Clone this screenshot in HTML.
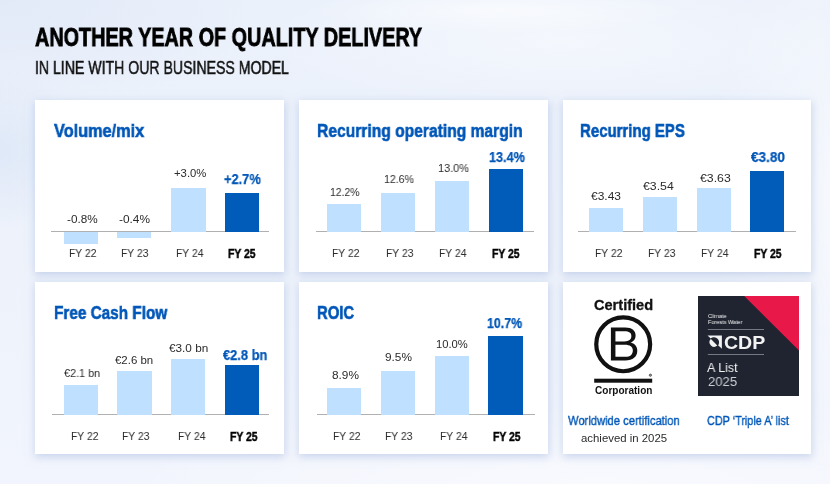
<!DOCTYPE html>
<html><head><meta charset="utf-8"><title>Another year of quality delivery</title>
<style>
html,body{margin:0;padding:0}
body{width:830px;height:484px;overflow:hidden;position:relative;font-family:"Liberation Sans",sans-serif;
background:
 radial-gradient(ellipse 190px 24px at 500px 10px, rgba(255,255,255,.55), rgba(255,255,255,0) 100%),
 radial-gradient(ellipse 300px 70px at 560px 40px, rgba(255,255,255,.45), rgba(255,255,255,0) 100%),
 radial-gradient(ellipse 120px 300px at 830px 200px, rgba(255,255,255,.5), rgba(255,255,255,0) 100%),
 radial-gradient(ellipse 90px 80px at 0px 150px, rgba(214,226,245,.6), rgba(214,226,245,0) 100%),
 radial-gradient(ellipse 260px 110px at 0px 0px, rgba(224,232,247,.8), rgba(224,232,247,0) 100%),
 radial-gradient(ellipse 500px 80px at 600px 484px, rgba(255,255,255,.5), rgba(255,255,255,0) 100%),
 linear-gradient(180deg,#ebf1fb 0%,#edf2fb 50%,#f2f5fd 100%);}
.card{position:absolute;width:248.700px;height:172px;background:#fff;box-shadow:0 2px 8px 0.5px rgba(160,180,222,.5)}
.r{position:absolute}
.t{position:absolute;white-space:nowrap;line-height:1;transform-origin:0 0;letter-spacing:0;will-change:transform}
</style></head><body>
<div class="card" style="left:35.0px;top:100.0px"></div>
<div class="card" style="left:299.0px;top:100.0px"></div>
<div class="card" style="left:562.6px;top:100.0px"></div>
<div class="card" style="left:35.0px;top:282.0px"></div>
<div class="card" style="left:299.0px;top:282.0px"></div>
<div class="card" style="left:562.6px;top:282.0px"></div>
<div class="r" style="left:51.4px;top:231.0px;width:217.6px;height:1.0px;background:#b0b0b0"></div>
<div class="r" style="left:63.6px;top:231.6px;width:34.3px;height:12.0px;background:#c0e0ff"></div>
<div class="r" style="left:117.1px;top:231.6px;width:34.3px;height:6.2px;background:#c0e0ff"></div>
<div class="r" style="left:171.3px;top:188.0px;width:34.3px;height:43.6px;background:#c0e0ff"></div>
<div class="r" style="left:225.1px;top:192.7px;width:34.3px;height:38.9px;background:#005bb9"></div>
<div class="r" style="left:316.0px;top:231.0px;width:218.0px;height:1.0px;background:#b0b0b0"></div>
<div class="r" style="left:327.1px;top:203.9px;width:34.3px;height:27.7px;background:#c0e0ff"></div>
<div class="r" style="left:381.0px;top:192.7px;width:34.3px;height:38.9px;background:#c0e0ff"></div>
<div class="r" style="left:434.9px;top:181.1px;width:34.3px;height:50.5px;background:#c0e0ff"></div>
<div class="r" style="left:488.5px;top:169.2px;width:34.3px;height:62.4px;background:#005bb9"></div>
<div class="r" style="left:578.0px;top:231.0px;width:218.0px;height:1.0px;background:#b0b0b0"></div>
<div class="r" style="left:589.1px;top:207.9px;width:34.3px;height:23.7px;background:#c0e0ff"></div>
<div class="r" style="left:642.7px;top:196.6px;width:34.3px;height:35.0px;background:#c0e0ff"></div>
<div class="r" style="left:696.9px;top:188.0px;width:34.3px;height:43.6px;background:#c0e0ff"></div>
<div class="r" style="left:750.2px;top:170.5px;width:34.3px;height:61.1px;background:#005bb9"></div>
<div class="r" style="left:51.5px;top:414.0px;width:217.5px;height:1.0px;background:#b0b0b0"></div>
<div class="r" style="left:63.8px;top:384.6px;width:34.3px;height:30.0px;background:#c0e0ff"></div>
<div class="r" style="left:117.3px;top:370.7px;width:34.3px;height:43.9px;background:#c0e0ff"></div>
<div class="r" style="left:171.2px;top:359.4px;width:34.3px;height:55.2px;background:#c0e0ff"></div>
<div class="r" style="left:225.1px;top:365.1px;width:34.3px;height:49.5px;background:#005bb9"></div>
<div class="r" style="left:317.0px;top:414.0px;width:218.4px;height:1.0px;background:#b0b0b0"></div>
<div class="r" style="left:327.1px;top:387.9px;width:34.3px;height:26.7px;background:#c0e0ff"></div>
<div class="r" style="left:381.0px;top:370.7px;width:34.3px;height:43.9px;background:#c0e0ff"></div>
<div class="r" style="left:434.9px;top:356.1px;width:34.3px;height:58.5px;background:#c0e0ff"></div>
<div class="r" style="left:488.3px;top:335.6px;width:34.3px;height:79.0px;background:#005bb9"></div>
<svg class="r" style="left:590px;top:312px" width="68" height="76" viewBox="590 312 68 76">
<circle cx="623.2" cy="344.3" r="26.95" fill="none" stroke="#111" stroke-width="4.2"/>
<path fill="#111" fill-rule="evenodd" transform="translate(610.9,327.6) scale(1.055,1.012) translate(-612.1,-327.3)" d="M612.1 327.3h13.6c3.3 0 5.7.7 7.4 2.1 1.6 1.4 2.4 3.3 2.4 5.7 0 1.7-.4 3.2-1.300 4.400-.9 1.200-2.100 2.100-3.600 2.600 2 .400 3.600 1.300 4.700 2.700 1.200 1.400 1.800 3.200 1.800 5.300 0 3-.99 5.300-3 7-2 1.700-4.800 2.600-8.400 2.600h-13.600zM616.4 341h8.600c2.100 0 3.700-.5 4.800-1.400 1.100-.9 1.700-2.300 1.700-4.100 0-3.100-2.200-4.600-6.500-4.600h-8.600zM616.400 356.100h9.300c2.400 0 4.200-.5 5.400-1.600 1.200-1.100 1.800-2.600 1.800-4.500 0-1.800-.7-3.200-2-4.200-1.300-1-3.100-1.500-5.500-1.500h-9z"/>
<rect x="594.2" y="378.7" width="58" height="4" fill="#111"/>
<circle cx="650.4" cy="375.2" r="1.15" fill="#999" stroke="#222" stroke-width=".6"/>
</svg>
<svg class="r" style="left:698px;top:295.700px" width="101" height="100" viewBox="0 0 101 100">
<rect width="101" height="100" fill="#1f2430"/>
<polygon points="46.200,0 101,0 101,54.500" fill="#e81948"/>
<rect x="9.800" y="33" width="56.200" height=".7" fill="#9aa0aa"/>
<rect x="9.800" y="58.300" width="56.200" height=".7" fill="#9aa0aa"/>
<g transform="translate(9.5,39.4)">
<polygon points="0,0 14.4,0 14.4,13.4" fill="#f2f2f2"/>
<path d="M3.1,3.1 A5.1,5.1 0 0 1 10.3,10.3 Z" fill="#1f2430"/>
<path d="M3.3,3.7 A4.6,4.6 0 0 0 9.8,10.2 Z" fill="#f2f2f2"/>
</g>
</svg>
<div class="t" id="t0" style="left:35.41px;top:24.80px;font-size:25.6px;font-weight:700;color:#000;-webkit-text-stroke:0.80px #000;transform:scaleX(0.7741)">ANOTHER YEAR OF QUALITY DELIVERY</div>
<div class="t" id="t1" style="left:35.02px;top:59.20px;font-size:18.2px;font-weight:400;color:#111;-webkit-text-stroke:0.50px #111;transform:scaleX(0.7754)">IN LINE WITH OUR BUSINESS MODEL</div>
<div class="t" id="t2" style="left:53.96px;top:122.30px;font-size:18.9px;font-weight:700;color:#0057b8;-webkit-text-stroke:0.60px #0057b8;transform:scaleX(0.8627)">Volume/mix</div>
<div class="t" id="t3" style="left:67.10px;top:214.20px;font-size:11.2px;font-weight:400;color:#2b2b2b;transform:scaleX(1.0486)">-0.8%</div>
<div class="t" id="t4" style="left:118.90px;top:214.20px;font-size:11.2px;font-weight:400;color:#2b2b2b;transform:scaleX(1.0588)">-0.4%</div>
<div class="t" id="t5" style="left:173.70px;top:168.00px;font-size:11.2px;font-weight:400;color:#2b2b2b;transform:scaleX(1.0098)">+3.0%</div>
<div class="t" id="t6" style="left:224.11px;top:171.60px;font-size:14px;font-weight:700;color:#0057b8;-webkit-text-stroke:0.25px #0057b8;transform:scaleX(0.9147)">+2.7%</div>
<div class="t" id="t7" style="left:68.90px;top:248.00px;font-size:11.2px;font-weight:400;color:#2b2b2b;transform:scaleX(0.9249)">FY 22</div>
<div class="t" id="t8" style="left:120.90px;top:248.00px;font-size:11.2px;font-weight:400;color:#2b2b2b;transform:scaleX(0.9249)">FY 23</div>
<div class="t" id="t9" style="left:176.10px;top:248.00px;font-size:11.2px;font-weight:400;color:#2b2b2b;transform:scaleX(0.9249)">FY 24</div>
<div class="t" id="t10" style="left:228.49px;top:247.80px;font-size:12.3px;font-weight:700;color:#000;-webkit-text-stroke:0.45px #000;transform:scaleX(0.8438)">FY 25</div>
<div class="t" id="t11" style="left:317.02px;top:122.30px;font-size:18.9px;font-weight:700;color:#0057b8;-webkit-text-stroke:0.60px #0057b8;transform:scaleX(0.8264)">Recurring operating margin</div>
<div class="t" id="t12" style="left:329.75px;top:187.20px;font-size:11.2px;font-weight:400;color:#2b2b2b;transform:scaleX(0.9284)">12.2%</div>
<div class="t" id="t13" style="left:383.80px;top:174.40px;font-size:11.2px;font-weight:400;color:#2b2b2b;transform:scaleX(0.9442)">12.6%</div>
<div class="t" id="t14" style="left:437.50px;top:163.20px;font-size:11.2px;font-weight:400;color:#2b2b2b;transform:scaleX(0.9756)">13.0%</div>
<div class="t" id="t15" style="left:488.91px;top:150.00px;font-size:14px;font-weight:700;color:#0057b8;-webkit-text-stroke:0.25px #0057b8;transform:scaleX(0.9037)">13.4%</div>
<div class="t" id="t16" style="left:332.30px;top:247.80px;font-size:11.2px;font-weight:400;color:#2b2b2b;transform:scaleX(0.9249)">FY 22</div>
<div class="t" id="t17" style="left:385.50px;top:247.80px;font-size:11.2px;font-weight:400;color:#2b2b2b;transform:scaleX(0.9249)">FY 23</div>
<div class="t" id="t18" style="left:438.50px;top:247.80px;font-size:11.2px;font-weight:400;color:#2b2b2b;transform:scaleX(0.9249)">FY 24</div>
<div class="t" id="t19" style="left:491.59px;top:247.60px;font-size:12.3px;font-weight:700;color:#000;-webkit-text-stroke:0.45px #000;transform:scaleX(0.8438)">FY 25</div>
<div class="t" id="t20" style="left:580.45px;top:122.30px;font-size:18.9px;font-weight:700;color:#0057b8;-webkit-text-stroke:0.60px #0057b8;transform:scaleX(0.7923)">Recurring EPS</div>
<div class="t" id="t21" style="left:590.60px;top:191.00px;font-size:11.2px;font-weight:400;color:#2b2b2b;transform:scaleX(1.0693)">€3.43</div>
<div class="t" id="t22" style="left:643.10px;top:180.70px;font-size:11.2px;font-weight:400;color:#2b2b2b;transform:scaleX(1.0981)">€3.54</div>
<div class="t" id="t23" style="left:699.80px;top:172.80px;font-size:11.2px;font-weight:400;color:#2b2b2b;transform:scaleX(1.0981)">€3.63</div>
<div class="t" id="t24" style="left:751.12px;top:150.00px;font-size:14px;font-weight:700;color:#0057b8;-webkit-text-stroke:0.25px #0057b8;transform:scaleX(0.9691)">€3.80</div>
<div class="t" id="t25" style="left:595.30px;top:247.80px;font-size:11.2px;font-weight:400;color:#2b2b2b;transform:scaleX(0.9249)">FY 22</div>
<div class="t" id="t26" style="left:648.30px;top:247.80px;font-size:11.2px;font-weight:400;color:#2b2b2b;transform:scaleX(0.9249)">FY 23</div>
<div class="t" id="t27" style="left:700.80px;top:247.80px;font-size:11.2px;font-weight:400;color:#2b2b2b;transform:scaleX(0.9249)">FY 24</div>
<div class="t" id="t28" style="left:754.09px;top:247.60px;font-size:12.3px;font-weight:700;color:#000;-webkit-text-stroke:0.45px #000;transform:scaleX(0.8438)">FY 25</div>
<div class="t" id="t29" style="left:53.63px;top:304.30px;font-size:18.9px;font-weight:700;color:#0057b8;-webkit-text-stroke:0.60px #0057b8;transform:scaleX(0.8106)">Free Cash Flow</div>
<div class="t" id="t30" style="left:63.50px;top:368.30px;font-size:11.2px;font-weight:400;color:#2b2b2b;transform:scaleX(0.9702)">€2.1 bn</div>
<div class="t" id="t31" style="left:115.00px;top:355.00px;font-size:11.2px;font-weight:400;color:#2b2b2b;transform:scaleX(1.0241)">€2.6 bn</div>
<div class="t" id="t32" style="left:169.00px;top:343.20px;font-size:11.2px;font-weight:400;color:#2b2b2b;transform:scaleX(1.0511)">€3.0 bn</div>
<div class="t" id="t33" style="left:223.11px;top:347.80px;font-size:14px;font-weight:700;color:#0057b8;-webkit-text-stroke:0.25px #0057b8;transform:scaleX(0.9178)">€2.8 bn</div>
<div class="t" id="t34" style="left:70.70px;top:431.20px;font-size:11.2px;font-weight:400;color:#2b2b2b;transform:scaleX(0.9249)">FY 22</div>
<div class="t" id="t35" style="left:122.10px;top:431.20px;font-size:11.2px;font-weight:400;color:#2b2b2b;transform:scaleX(0.9249)">FY 23</div>
<div class="t" id="t36" style="left:177.90px;top:431.20px;font-size:11.2px;font-weight:400;color:#2b2b2b;transform:scaleX(0.9249)">FY 24</div>
<div class="t" id="t37" style="left:229.79px;top:431.00px;font-size:12.3px;font-weight:700;color:#000;-webkit-text-stroke:0.45px #000;transform:scaleX(0.8438)">FY 25</div>
<div class="t" id="t38" style="left:317.25px;top:304.30px;font-size:18.9px;font-weight:700;color:#0057b8;-webkit-text-stroke:0.60px #0057b8;transform:scaleX(0.7863)">ROIC</div>
<div class="t" id="t39" style="left:331.50px;top:369.60px;font-size:11.2px;font-weight:400;color:#2b2b2b;transform:scaleX(1.0567)">8.9%</div>
<div class="t" id="t40" style="left:385.00px;top:351.80px;font-size:11.2px;font-weight:400;color:#2b2b2b;transform:scaleX(1.0567)">9.5%</div>
<div class="t" id="t41" style="left:436.40px;top:339.20px;font-size:11.2px;font-weight:400;color:#2b2b2b;transform:scaleX(1.0008)">10.0%</div>
<div class="t" id="t42" style="left:487.41px;top:315.90px;font-size:14px;font-weight:700;color:#0057b8;-webkit-text-stroke:0.25px #0057b8;transform:scaleX(0.8840)">10.7%</div>
<div class="t" id="t43" style="left:332.80px;top:430.90px;font-size:11.2px;font-weight:400;color:#2b2b2b;transform:scaleX(0.9249)">FY 22</div>
<div class="t" id="t44" style="left:385.10px;top:430.90px;font-size:11.2px;font-weight:400;color:#2b2b2b;transform:scaleX(0.9249)">FY 23</div>
<div class="t" id="t45" style="left:440.30px;top:430.90px;font-size:11.2px;font-weight:400;color:#2b2b2b;transform:scaleX(0.9249)">FY 24</div>
<div class="t" id="t46" style="left:492.59px;top:430.70px;font-size:12.3px;font-weight:700;color:#000;-webkit-text-stroke:0.45px #000;transform:scaleX(0.8438)">FY 25</div>
<div class="t" id="t47" style="left:593.96px;top:298.00px;font-size:14px;font-weight:700;color:#111;-webkit-text-stroke:0.30px #111;transform:scaleX(1.0401)">Certified</div>
<div class="t" id="t48" style="left:594.60px;top:386.40px;font-size:10px;font-weight:700;color:#111;transform:scaleX(1.0034)">Corporation</div>
<div class="t" id="t49" style="left:568.27px;top:414.40px;font-size:13.4px;font-weight:400;color:#0057b8;-webkit-text-stroke:0.40px #0057b8;transform:scaleX(0.8357)">Worldwide certification</div>
<div class="t" id="t50" style="left:580.60px;top:433.20px;font-size:11.2px;font-weight:400;color:#2b2b2b;transform:scaleX(1.0181)">achieved in 2025</div>
<div class="t" id="t51" style="left:707.36px;top:414.40px;font-size:13.4px;font-weight:400;color:#0057b8;-webkit-text-stroke:0.40px #0057b8;transform:scaleX(0.8089)">CDP ‘Triple A’ list</div>
<div class="t" id="t52" style="left:707.80px;top:312.50px;font-size:6px;font-weight:400;color:#f0f0f0;transform:scaleX(0.9142)">Climate</div>
<div class="t" id="t53" style="left:707.80px;top:318.70px;font-size:6px;font-weight:400;color:#f0f0f0;transform:scaleX(0.9212)">Forests Water</div>
<div class="t" id="t54" style="left:723.60px;top:333.80px;font-size:18.5px;font-weight:700;color:#f2f2f2;transform:scaleX(1.0563)">CDP</div>
<div class="t" id="t55" style="left:707.20px;top:360.80px;font-size:13.4px;font-weight:400;color:#f2f2f2;transform:scaleX(0.9358)">A List</div>
<div class="t" id="t56" style="left:707.60px;top:375.20px;font-size:13.6px;font-weight:400;color:#c9ccd0;transform:scaleX(0.9636)">2025</div>
</body></html>
